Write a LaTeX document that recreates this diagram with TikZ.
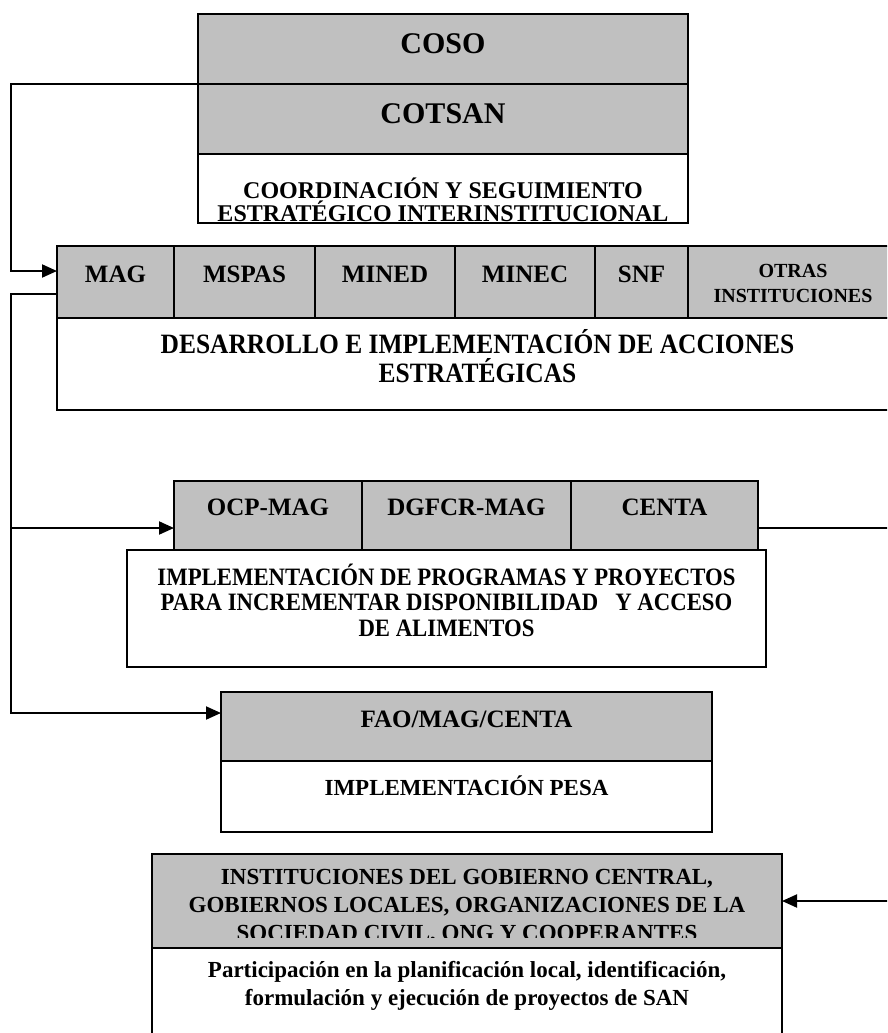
\documentclass[tikz,border=0pt]{standalone}
\usepackage{fontspec}
\setmainfont{Liberation Serif}
\newfontfamily\condfont{Liberation Serif}[FakeStretch=0.91]
\usetikzlibrary{arrows.meta}
\definecolor{boxgray}{RGB}{192,192,192}
\tikzset{
  cell/.style={draw=black, line width=2pt, inner sep=0pt, outer sep=0pt, anchor=north west},
  graycell/.style={cell, fill=boxgray},
  whitecell/.style={cell, fill=white},
  conn/.style={line width=2pt, draw=black},
  tip/.style={-{Triangle[length=15pt,width=13pt]}},
  lbl/.style={anchor=base, inner sep=0pt},
  fA/.style={font=\bfseries\fontsize{30}{36}\selectfont},
  fB/.style={font=\bfseries\fontsize{25}{30}\selectfont},
  fC/.style={font=\bfseries\fontsize{24}{28}\selectfont},
  fG/.style={font=\bfseries\fontsize{23}{28}\selectfont},
  fD/.style={font=\bfseries\fontsize{20}{24}\selectfont},
  fE/.style={font=\condfont\bfseries\fontsize{28}{32}\selectfont},
  fF/.style={font=\condfont\bfseries\fontsize{25}{30}\selectfont},
}
\begin{document}
\begin{tikzpicture}[x=1pt,y=-1pt]
\useasboundingbox (0,0) rectangle (887,1033);
\fill[white] (0,0) rectangle (887,1033);
\clip (0,0) rectangle (887,1033);

% top block
\node[graycell, minimum width=490pt, minimum height=70pt] (coso) at (198,14) {};
\node[graycell, minimum width=490pt, minimum height=70pt] (cotsan) at (198,84) {};
\node[whitecell, minimum width=490pt, minimum height=69pt] (coord) at (198,154) {};
\node[lbl,fA] (tcoso) at (443,53) {COSO};
\node[lbl,fA] (tcotsan) at (443,123) {COTSAN};
\node[lbl,fC] (tcoord1) at (443,198) {COORDINACIÓN Y SEGUIMIENTO};
\node[lbl,fC] (tcoord2) at (443,221) {ESTRATÉGICO INTERINSTITUCIONAL};

% institutions row
\node[graycell, minimum width=117pt, minimum height=72pt] (mag) at (57,246) {};
\node[graycell, minimum width=141pt, minimum height=72pt] (mspas) at (174,246) {};
\node[graycell, minimum width=140pt, minimum height=72pt] (mined) at (315,246) {};
\node[graycell, minimum width=140pt, minimum height=72pt] (minec) at (455,246) {};
\node[graycell, minimum width=93pt, minimum height=72pt] (snf) at (595,246) {};
\node[graycell, minimum width=210pt, minimum height=72pt] (otras) at (688,246) {};
\node[whitecell, minimum width=841pt, minimum height=92pt] (desa) at (57,318) {};
\node[lbl,fB] (tmag) at (115.5,282) {MAG};
\node[lbl,fB] (tmspas) at (244.5,282) {MSPAS};
\node[lbl,fB] (tmined) at (385,282) {MINED};
\node[lbl,fB] (tminec) at (525,282) {MINEC};
\node[lbl,fB] (tsnf) at (641.5,282) {SNF};
\node[lbl,fD] (totras1) at (793,277) {OTRAS};
\node[lbl,fD] (totras2) at (793,302) {INSTITUCIONES};
\node[lbl,fE] (tdesa1) at (477.5,353) {DESARROLLO E IMPLEMENTACIÓN DE ACCIONES};
\node[lbl,fE] (tdesa2) at (477.5,382) {ESTRATÉGICAS};

% OCP row
\node[graycell, minimum width=188pt, minimum height=69pt] (ocp) at (174,481) {};
\node[graycell, minimum width=209pt, minimum height=69pt] (dgfcr) at (362,481) {};
\node[graycell, minimum width=187pt, minimum height=69pt] (centa) at (571,481) {};
\node[whitecell, minimum width=639pt, minimum height=117pt] (impl) at (127,550) {};
\node[lbl,fB] (tocp) at (268,515) {OCP-MAG};
\node[lbl,fB] (tdgfcr) at (466.5,515) {DGFCR-MAG};
\node[lbl,fB] (tcenta) at (664.5,515) {CENTA};
\node[lbl,fF] (timpl1) at (446.5,585) {IMPLEMENTACIÓN DE PROGRAMAS Y PROYECTOS};
\node[lbl,fF] (timpl2) at (446.5,610.5) {PARA INCREMENTAR DISPONIBILIDAD\ \ \ Y ACCESO};
\node[lbl,fF] (timpl3) at (446.5,636) {DE ALIMENTOS};

% FAO block
\node[graycell, minimum width=491pt, minimum height=69pt] (fao) at (221,692) {};
\node[whitecell, minimum width=491pt, minimum height=71pt] (pesa) at (221,761) {};
\node[lbl,fB] (tfao) at (466.5,727) {FAO/MAG/CENTA};
\node[lbl,fG] (tpesa) at (466.5,795) {IMPLEMENTACIÓN PESA};

% bottom block
\node[graycell, minimum width=630pt, minimum height=94pt] (inst) at (152,854) {};
\node[whitecell, minimum width=630pt, minimum height=100pt] (part) at (152,948) {};
\node[lbl,fG] (tinst1) at (467,884) {INSTITUCIONES DEL GOBIERNO CENTRAL,};
\node[lbl,fG] (tinst2) at (467,912) {GOBIERNOS LOCALES, ORGANIZACIONES DE LA};
\begin{scope}
  \clip (152,854) rectangle (782,937);
  \node[lbl,fG] (tinst3) at (467,940) {SOCIEDAD CIVIL, ONG Y COOPERANTES};
\end{scope}
\node[lbl,fG] (tpart1) at (467,977) {Participación en la planificación local, identificación,};
\node[lbl,fG] (tpart2) at (467,1005) {formulación y ejecución de proyectos de SAN};

% connectors
\coordinate (k1) at (11,84);
\coordinate (k2) at (11,294);
\coordinate (k3) at (11,713);
\coordinate (k4) at (11,528);
\coordinate (r1) at (898,528);
\coordinate (r2) at (898,901);
\draw[conn,tip] (coso.south west) -- (k1) |- (mag.west |- 0,271);
\draw[conn,tip] (mag.west |- 0,294) -- (k2) -- (k3) -- (fao.west |- 0,713);
\draw[conn,tip] (k4) -- (ocp.west |- 0,528);
\draw[conn] (centa.east |- 0,528) -- (r1);
\draw[conn,tip] (r2) -- (inst.east |- 0,901);
\end{tikzpicture}
\end{document}
